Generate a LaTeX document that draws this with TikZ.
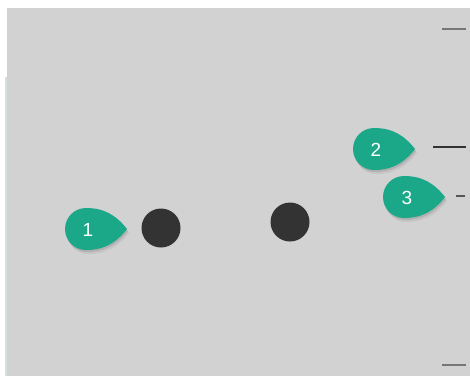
\documentclass[tikz,border=0pt]{standalone}
\usepackage{fontspec}
\setmainfont{Liberation Sans}
\definecolor{bgray}{HTML}{D2D2D2}
\definecolor{pincol}{HTML}{1BA888}
\definecolor{dotc}{HTML}{333333}
\definecolor{tickc}{HTML}{555555}
\definecolor{edgec}{HTML}{D0E2E2}
\begin{document}
\begin{tikzpicture}[x=1pt,y=-1pt,
  dotnode/.style={circle,fill=dotc,minimum size=39pt,inner sep=0pt},
  ticknode/.style={line width=2pt,draw=tickc},
  pinlabel/.style={text=white,font=\fontsize{19}{19}\selectfont,inner sep=0pt}]
\useasboundingbox (0,0) rectangle (470,376);
\fill[white] (0,0) rectangle (470,376);
\fill[bgray] (6.5,8) rectangle (470,376);
\fill[edgec] (5,77) rectangle (6.5,376);
% ticks
\draw[ticknode,draw=tickc!80] (442,29) -- (466,29);
\draw[ticknode,draw=tickc!80] (442,365) -- (466,365);
\draw[ticknode,draw=dotc] (433,147) -- (466,147);
\draw[ticknode,line width=1.5pt] (456,196) -- (465,196);
% dots
\node[dotnode] (d1) at (161,228) {};
\node[dotnode] (d2) at (290,222) {};
% pins
\newcommand{\pinpath}{(41,0) .. controls (30,-14) and (18,-21) .. (0,-21)
      arc[start angle=270,end angle=90,radius=21] .. controls (18,21) and (30,14) .. (41,0) -- cycle}
\newcommand{\pinshape}[2]{%
  \begin{scope}[shift={(#1+2,#2+4)}]
    \fill[black,opacity=0.06] \pinpath;
  \end{scope}
  \begin{scope}[shift={(#1+1,#2+2)}]
    \fill[black,opacity=0.10] \pinpath;
  \end{scope}
  \begin{scope}[shift={(#1,#2)}]
    \fill[pincol] \pinpath;
  \end{scope}}
\pinshape{86}{229}
\node[pinlabel] (p1) at (88,230) {1};
\pinshape{374}{149}
\node[pinlabel] (p2) at (376,150) {2};
\pinshape{404}{197}
\node[pinlabel] (p3) at (407,198) {3};
\end{tikzpicture}
\end{document}
